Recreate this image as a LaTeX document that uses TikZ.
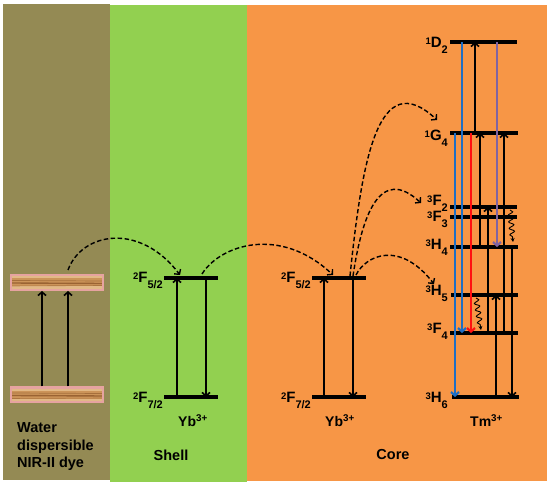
\documentclass[tikz,border=0pt]{standalone}
\usepackage{fontspec}
\setmainfont{Liberation Sans}
\usetikzlibrary{arrows.meta,decorations.pathmorphing}
\definecolor{brownP}{HTML}{948A54}
\definecolor{greenP}{HTML}{92D050}
\definecolor{orangeP}{HTML}{F79646}
\definecolor{blueT}{HTML}{1F6FC5}
\definecolor{redT}{HTML}{FF1010}
\definecolor{purpleT}{HTML}{8064A2}
\definecolor{wood}{HTML}{CC9459}
\definecolor{woodLight}{HTML}{E2B987}
\definecolor{woodDark}{HTML}{8E572A}
\definecolor{pinkB}{HTML}{E6A3A0}
\newcommand{\lvlab}[3]{{\fontsize{9.5}{9.5}\selectfont\raisebox{3.5pt}{#1}}{\fontsize{15}{15}\selectfont #2}{\fontsize{11}{11}\selectfont\raisebox{-5.5pt}{#3}}}
\tikzset{
  lvl/.style={line width=3.3pt},
  tr/.style={line width=1.6pt, -{Straight Barb[length=3.5pt,width=8pt]}},
  trc/.style={line width=2.2pt, -{Straight Barb[length=3.5pt,width=8pt]}},
  dsh/.style={line width=1.4pt, dash pattern=on 4.5pt off 2.5pt, -{Straight Barb[length=3.5pt,width=8pt]}},
  wv/.style={line width=0.9pt, decorate, decoration={snake, amplitude=2.5pt, segment length=6.5pt, post length=4pt}, -{Stealth[length=4pt,width=4pt]}},
  woodbar/.style={draw=pinkB, line width=2.4pt, fill=wood, minimum width=91.6pt, minimum height=14.6pt, inner sep=0pt,
    path picture={
      \fill[woodLight] ([yshift=4pt]path picture bounding box.west) rectangle ([yshift=7.5pt]path picture bounding box.east);
      \fill[woodLight] ([yshift=-4pt]path picture bounding box.west) rectangle ([yshift=-7.5pt]path picture bounding box.east);
      \draw[woodDark, line width=1.4pt, opacity=0.8] ([yshift=-0.5pt]path picture bounding box.west) -- ([yshift=-1pt]path picture bounding box.east);
      \draw[woodDark, line width=0.7pt, opacity=0.6] ([yshift=2pt]path picture bounding box.west) -- ([yshift=1.5pt]path picture bounding box.east);
      \draw[woodDark, line width=0.6pt, opacity=0.5] ([yshift=-3.5pt]path picture bounding box.west) -- ([yshift=-3pt]path picture bounding box.east);
    }},
  txt/.style={font=\fontsize{14.5}{17}\selectfont\bfseries, inner sep=0pt},
  lab/.style={font=\bfseries, inner sep=0pt, anchor=base east},
  ion/.style={font=\fontsize{14}{14}\selectfont\bfseries, inner sep=0pt, anchor=base west}
}
\begin{document}
\begin{tikzpicture}[x=1pt,y=-1pt]
\fill[white] (0,0) rectangle (550,486);
\useasboundingbox (0,0) rectangle (550,486);
% panels
\fill[brownP] (3,4) rectangle (110,480);
\fill[greenP] (110,5) rectangle (247,482);
\fill[orangeP] (247,5) rectangle (547,481);

% dye bars
\node[woodbar] (dyeT) at (57,282.5) {};
\node[woodbar] (dyeB) at (57,395) {};
\draw[tr] (42,0 |- dyeB.north) -- (42,0 |- dyeT.south);
\draw[tr] (68,0 |- dyeB.north) -- (68,0 |- dyeT.south);
\node[txt, anchor=base west] (dye1) at (17,433) {Water};
\node[txt, anchor=base west] (dye2) at (17,450.5) {dispersible};
\node[txt, anchor=base west] (dye3) at (17,468) {NIR-II dye};

% shell Yb
\coordinate (sU1) at (164,278); \coordinate (sU2) at (218,278);
\coordinate (sL1) at (164,397); \coordinate (sL2) at (218,397);
\draw[lvl] (sU1) -- (sU2);
\draw[lvl] (sL1) -- (sL2);
\draw[tr] (177,0 |- sL1) -- (177,0 |- sU1);
\draw[tr] (206,0 |- sU1) -- (206,0 |- sL1);
\node[lab] (sUl) at (163,283) {\lvlab{2}{F}{5/2}};
\node[lab] (sLl) at (163,403) {\lvlab{2}{F}{7/2}};
\node[ion] (sIon) at (178,427) {Yb\textsuperscript{3+}};
\node[txt, anchor=base] (shell) at (171,461) {Shell};

% core Yb
\coordinate (cU1) at (312,278); \coordinate (cU2) at (366,278);
\coordinate (cL1) at (312,397); \coordinate (cL2) at (366,397);
\draw[lvl] (cU1) -- (cU2);
\draw[lvl] (cL1) -- (cL2);
\draw[tr] (324,0 |- cL1) -- (324,0 |- cU1);
\draw[tr] (353,0 |- cU1) -- (353,0 |- cL1);
\node[lab] (cUl) at (311,283) {\lvlab{2}{F}{5/2}};
\node[lab] (cLl) at (311,403) {\lvlab{2}{F}{7/2}};
\node[ion] (cIon) at (325,427) {Yb\textsuperscript{3+}};
\node[txt, anchor=base] (core) at (393,460) {Core};

% Tm levels
\coordinate (D2a) at (450,42);  \coordinate (D2b) at (517,42);
\coordinate (G4a) at (450,133); \coordinate (G4b) at (518,133);
\coordinate (F2a) at (450,207); \coordinate (F2b) at (517,207);
\coordinate (F3a) at (450,217); \coordinate (F3b) at (517,217);
\coordinate (H4a) at (450,247); \coordinate (H4b) at (518,247);
\coordinate (H5a) at (451,295); \coordinate (H5b) at (518,295);
\coordinate (F4a) at (450,333); \coordinate (F4b) at (518,333);
\coordinate (H6a) at (452,397); \coordinate (H6b) at (519,397);
\foreach \l in {D2,G4,F2,F3,H4,H5,F4,H6} {\draw[lvl] (\l a) -- (\l b);}
\node[lab] (lD2) at (448,48) {\lvlab{1}{D}{2}};
\node[lab] (lG4) at (448,141) {\lvlab{1}{G}{4}};
\node[lab] (lF2) at (448,206) {\lvlab{3}{F}{2}};
\node[lab] (lF3) at (448,222) {\lvlab{3}{F}{3}};
\node[lab] (lH4) at (448,250) {\lvlab{3}{H}{4}};
\node[lab] (lH5) at (448,296) {\lvlab{3}{H}{5}};
\node[lab] (lF4) at (448,334) {\lvlab{3}{F}{4}};
\node[lab] (lH6) at (448,403) {\lvlab{3}{H}{6}};
\node[ion] (tIon) at (470,427) {Tm\textsuperscript{3+}};

% Tm transitions
\draw[trc, blueT] (455,0 |- G4a) -- (455,0 |- H6a);
\draw[trc, blueT] (462,0 |- D2a) -- (462,0 |- F4a);
\draw[trc, redT] (471,0 |- G4a) -- (471,0 |- F4a);
\draw[trc, purpleT] (497,0 |- D2a) -- (497,0 |- H4a);
\draw[tr] (475,0 |- G4a) -- (475,0 |- D2a);
\draw[tr] (480,0 |- H4a) -- (480,0 |- G4a);
\draw[tr] (488,0 |- F4a) -- (488,0 |- F2a);
\draw[tr] (496,0 |- H6a) -- (496,0 |- H5a);
\draw[tr] (504,0 |- F4a) -- (504,0 |- G4a);
\draw[tr] (512,0 |- H4a) -- (512,0 |- H6a);
\coordinate (w1s) at (510,210); \coordinate (w1e) at (513,242);
\coordinate (w2s) at (476,298); \coordinate (w2e) at (481,330);
\draw[wv] (w1s) -- (w1e);
\draw[wv] (w2s) -- (w2e);

% energy transfer curves
\coordinate (e1s) at (68,270); \coordinate (e1e) at (180,275);
\draw[dsh] (e1s) .. controls (82,232) and (140,222) .. (e1e);
\coordinate (e2s) at (202,274); \coordinate (e2e) at (333,275);
\draw[dsh] (e2s) .. controls (220,245) and (280,225) .. (e2e);
\coordinate (e3s) at (350,276); \coordinate (e3e) at (437,120);
\draw[dsh] (e3s) .. controls (362,160) and (378,65) .. (e3e);
\coordinate (e4s) at (353,276); \coordinate (e4e) at (421,203);
\draw[dsh] (e4s) .. controls (362,215) and (380,165) .. (e4e);
\coordinate (e5s) at (356,275); \coordinate (e5e) at (434,284);
\draw[dsh] (e5s) .. controls (366,255) and (400,240) .. (e5e);
\end{tikzpicture}
\end{document}
